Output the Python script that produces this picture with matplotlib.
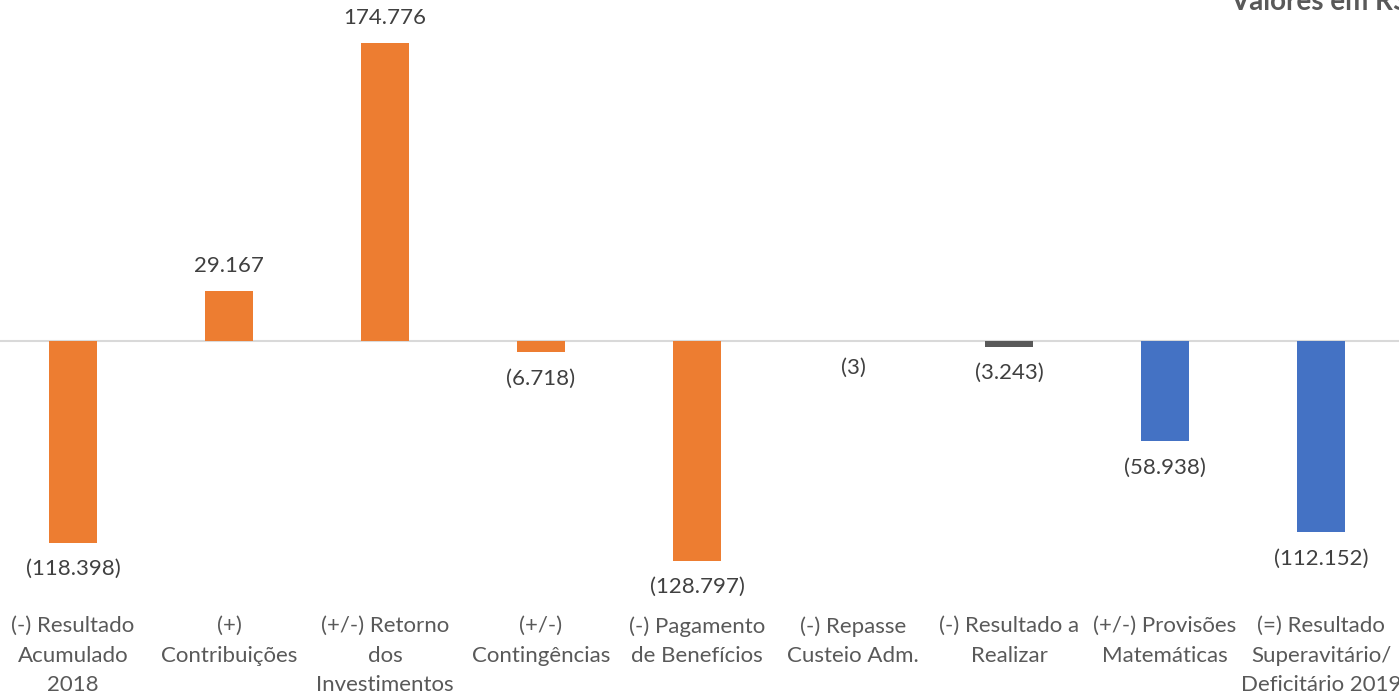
import matplotlib.pyplot as plt
from matplotlib.ticker import NullLocator

# data (R$ mil)
categories = [
    '(-) Resultado\nAcumulado\n2018',
    '(+)\nContribuições',
    '(+/-) Retorno\ndos\nInvestimentos',
    '(+/-)\nContingências',
    '(-) Pagamento\nde Benefícios',
    '(-) Repasse\nCusteio Adm.',
    '(-) Resultado a\nRealizar',
    '(+/-) Provisões\nMatemáticas',
    '(=) Resultado\nSuperavitário/\nDeficitário 2019',
]
values = [-118.398, 29.167, 174.776, -6.718, -128.797, -3, -3.243, -58.938, -112.152]
value_labels = ['(118.398)', '29.167', '174.776', '(6.718)', '(128.797)',
                '(3)', '(3.243)', '(58.938)', '(112.152)']
bar_colors = ['#ED7D31', '#ED7D31', '#ED7D31', '#ED7D31', '#ED7D31',
              'none', '#595959', '#4472C4', '#4472C4']

W, H = 1399, 695
fig = plt.figure(figsize=(W / 100, H / 100), dpi=100)
plt.rcParams['font.family'] = ['Lato', 'DejaVu Sans']

# axes placed in pixel terms
left_px, right_px = -5, 1399
top_px, bottom_px = 30, 600
ax = fig.add_axes([left_px / W, (H - bottom_px) / H,
                   (right_px - left_px) / W, (bottom_px - top_px) / H])
scale = 298 / 174.776  # px per unit
ax.set_ylim(-(bottom_px - 341) / scale, (341 - top_px) / scale)
ax.set_xlim(-0.5, len(categories) - 0.5)

x = range(len(categories))
bars = ax.bar(x, values, width=0.31, color=bar_colors, zorder=2)
ax.axhline(0, color='#D9D9D9', lw=1.5, zorder=1)

for b, v, lab in zip(bars, values, value_labels):
    xc = b.get_x() + b.get_width() / 2
    if v >= 0:
        ax.annotate(lab, (xc, v), xytext=(0, 18), textcoords='offset points',
                    ha='center', va='center', fontsize=16, color='#404040')
    else:
        y = v if lab != '(3)' else 0
        ax.annotate(lab, (xc, y), xytext=(0, -19), textcoords='offset points',
                    ha='center', va='center', fontsize=16, color='#404040')

for i, c in enumerate(categories):
    fig.text((73 + 156 * i) / W, 1 - 616 / H, c, ha='center', va='top',
             fontsize=16, color='#595959', linespacing=1.6)

for s in ax.spines.values():
    s.set_visible(False)
ax.xaxis.set_major_locator(NullLocator())
ax.yaxis.set_major_locator(NullLocator())
ax.patch.set_alpha(0)

fig.text(1230 / W, 1 - 10 / H, 'Valores em R$', ha='left', va='baseline',
         fontsize=20, fontweight='bold', color='#595959')

fig.savefig('out.png', dpi=100)
